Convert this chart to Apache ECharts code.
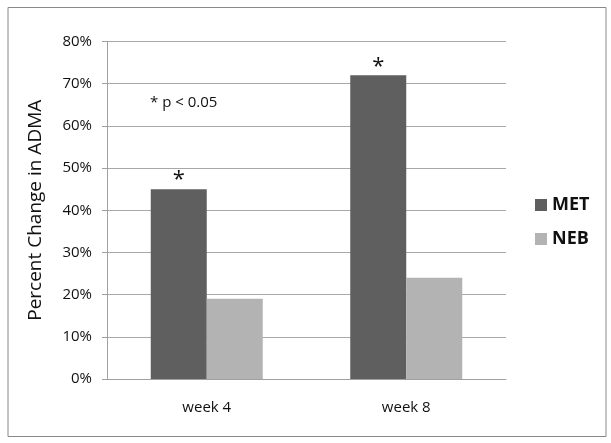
<!DOCTYPE html>
<html><head><meta charset="utf-8">
<script src="https://cdn.jsdelivr.net/npm/echarts@6/dist/echarts.min.js"></script>
<style>html,body{margin:0;padding:0;background:#fff}#c{width:611px;height:443px}</style>
</head><body><div id="c"></div>
<script>
const categories = ['week 4', 'week 8'];
const metValues = [45, 72];
const nebValues = [19, 24];
const metMarks = ['*', '*'];
const yTicks = [0, 10, 20, 30, 40, 50, 60, 70, 80];
const noteText = '* p < 0.05';

const font = '"Open Sans", "Liberation Sans", sans-serif';
const chart = echarts.init(document.getElementById('c'), null, {renderer: 'canvas'});
chart.setOption({
  animation: false,
  backgroundColor: '#fff',
  grid: {left: 107, right: 105, top: 41.5, bottom: 64, containLabel: false},
  legend: {
    orient: 'vertical', left: 530, top: 191, itemWidth: 12, itemHeight: 12, itemGap: 16,
    textStyle: {fontFamily: font, fontSize: 18, fontWeight: 'bold', color: '#111'},
    data: ['MET', 'NEB'], icon: 'rect'
  },
  xAxis: {
    type: 'category', data: categories,
    axisLine: {show: true, lineStyle: {color: '#a0a0a0', width: 1}},
    axisTick: {show: false},
    axisLabel: {fontFamily: font, fontSize: 15, fontWeight: 500, color: '#111', margin: 21}
  },
  yAxis: {
    type: 'value', min: 0, max: 80, interval: 10,
    name: 'Percent Change in ADMA', nameLocation: 'middle', nameGap: 62,
    nameTextStyle: {fontFamily: font, fontSize: 19, fontWeight: 500, color: '#111'},
    axisLine: {show: true, lineStyle: {color: '#a0a0a0'}},
    axisTick: {show: true, length: 5, lineStyle: {color: '#a0a0a0'}},
    axisLabel: {fontFamily: font, fontSize: 15, fontWeight: 500, color: '#111', margin: 15,
      formatter: v => yTicks.includes(v) ? v + '%' : ''},
    splitLine: {show: true, lineStyle: {color: '#a8a8a8', width: 1.2}}
  },
  series: [
    {name: 'MET', type: 'bar', data: metValues, barWidth: 56, barGap: '0%',
     itemStyle: {color: '#5f5f5f'},
     label: {show: true, position: 'top', distance: -2, fontSize: 22, fontFamily: font, color: '#111',
       formatter: p => metMarks[p.dataIndex]}},
    {name: 'NEB', type: 'bar', data: nebValues, barWidth: 56,
     itemStyle: {color: '#b3b3b3'}}
  ],
  graphic: [
    {type: 'rect', shape: {x: 8, y: 7.5, width: 598, height: 429}, style: {fill: 'none', stroke: '#888', lineWidth: 1}, silent: true},
    {type: 'text', left: 150, top: 95, style: {text: noteText, fontFamily: font, fontSize: 15, fontWeight: 500, fill: '#111'}}
  ]
});
</script></body></html>
